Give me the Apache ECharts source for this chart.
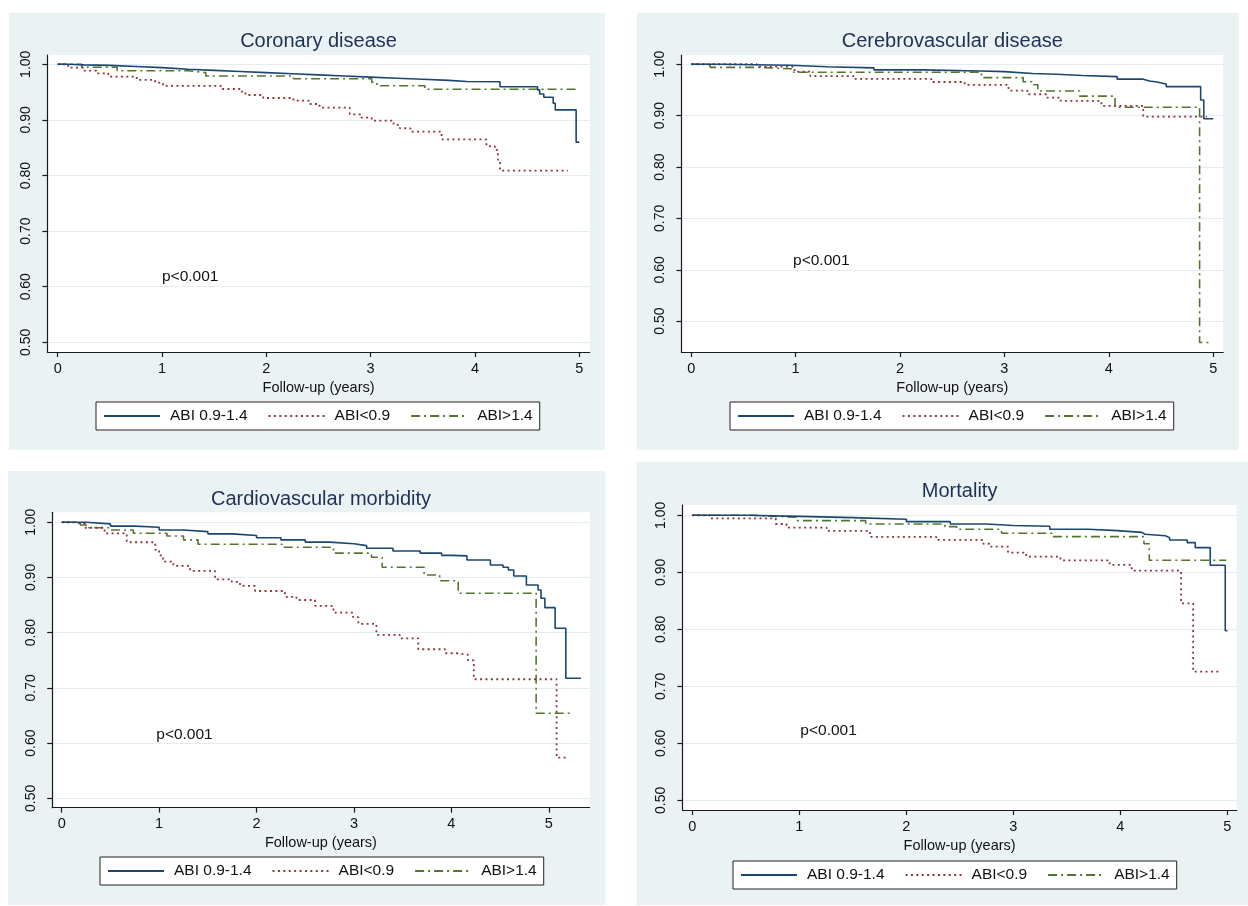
<!DOCTYPE html>
<html><head><meta charset="utf-8">
<script src="https://cdn.jsdelivr.net/npm/echarts@6/dist/echarts.min.js"></script>
<style>html,body{margin:0;padding:0;background:#fff}#c{width:1248px;height:906px}</style>
</head><body><div id="c"></div>
<script>
// ---------- texts ----------
const seriesNames = ['ABI 0.9-1.4', 'ABI<0.9', 'ABI>1.4'];
const panelTitles = ['Coronary disease', 'Cerebrovascular disease', 'Cardiovascular morbidity', 'Mortality'];
const xAxisTitle = 'Follow-up (years)';
const pValueText = 'p<0.001';
const xTickValues = [0, 1, 2, 3, 4, 5];
const yTickValues = [0.5, 0.6, 0.7, 0.8, 0.9, 1.0];

// ---------- Kaplan-Meier estimates [years, survival] ----------
const coronaryNormal = [[0,1.0],[0.1,0.999],[0.25,0.998],[0.5,0.996],[0.75,0.994],[1.0,0.991],[1.25,0.989],[1.5,0.987],[1.75,0.985],[2.0,0.983],[2.25,0.981],[2.5,0.979],[2.75,0.977],[3.0,0.975],[3.25,0.973],[3.5,0.971],[3.75,0.969],[3.92,0.9687],[4.24,0.9597],[4.6,0.954],[4.62,0.9466],[4.66,0.9406],[4.75,0.93],[4.77,0.918],[4.97,0.86],[5.0,0.86]];
const coronaryLow = [[0,1.0],[0.10,0.994],[0.245,0.9885],[0.37,0.9838],[0.485,0.9777],[0.757,0.9718],[0.933,0.967],[1.01,0.961],[1.58,0.9556],[1.75,0.9507],[1.80,0.9448],[1.97,0.9394],[2.26,0.9345],[2.42,0.9286],[2.51,0.922],[2.80,0.910],[2.91,0.904],[3.01,0.8986],[3.22,0.891],[3.28,0.885],[3.38,0.879],[3.68,0.865],[4.11,0.853],[4.19,0.846],[4.22,0.828],[4.24,0.8087],[4.89,0.8087]];
const coronaryHigh = [[0,1.0],[0.23,0.9946],[0.57,0.9885],[1.25,0.985],[1.42,0.979],[2.26,0.974],[3.01,0.9676],[3.06,0.9615],[3.52,0.955],[4.99,0.955]];

const cerebroNormal = [[0,1.0],[0.3,0.999],[0.6,0.998],[0.95,0.995],[1.3,0.993],[1.75,0.989],[2.2,0.987],[2.77,0.9856],[3.0,0.982],[3.27,0.9805],[3.5,0.978],[3.75,0.976],[4.08,0.971],[4.33,0.9675],[4.39,0.9655],[4.46,0.9617],[4.55,0.9565],[4.88,0.9305],[4.91,0.894],[5.0,0.894]];
const cerebroLow = [[0,1.0],[0.63,0.9953],[0.99,0.9856],[1.14,0.977],[1.57,0.9714],[2.30,0.9655],[2.62,0.9597],[3.04,0.9487],[3.22,0.9416],[3.40,0.935],[3.54,0.9286],[3.93,0.919],[4.33,0.898],[4.94,0.898]];
const cerebroHigh = [[0,1.0],[0.18,0.994],[0.63,0.991],[0.98,0.9844],[2.78,0.974],[3.18,0.966],[3.28,0.96],[3.32,0.948],[3.72,0.938],[4.06,0.9163],[4.87,0.4584],[4.99,0.4584]];

const cvNormal = [[0,1.0],[0.25,0.997],[0.5,0.993],[0.75,0.991],[1.0,0.986],[1.25,0.983],[1.5,0.979],[1.75,0.976],[2.0,0.972],[2.25,0.968],[2.5,0.964],[2.75,0.961],[3.0,0.9576],[3.13,0.953],[3.4,0.948],[3.68,0.944],[3.9,0.94],[4.0,0.939],[4.16,0.9317],[4.4,0.9226],[4.53,0.9185],[4.585,0.9136],[4.64,0.9027],[4.77,0.8864],[4.89,0.8774],[4.92,0.8623],[4.96,0.8453],[5.065,0.808],[5.175,0.7174],[5.33,0.7174]];
const cvLow = [[0,1.0],[0.12,0.997],[0.24,0.990],[0.44,0.980],[0.667,0.9638],[0.96,0.95],[1.0,0.94],[1.04,0.9286],[1.146,0.9208],[1.317,0.9118],[1.574,0.8967],[1.745,0.892],[1.83,0.8846],[1.985,0.8755],[2.29,0.865],[2.41,0.8592],[2.60,0.8484],[2.79,0.8362],[2.99,0.828],[3.045,0.8158],[3.23,0.796],[3.47,0.7898],[3.66,0.77],[3.935,0.7627],[4.055,0.76],[4.17,0.75],[4.23,0.7156],[5.08,0.5736],[5.185,0.5736]];
const cvHigh = [[0,1.0],[0.19,0.995],[0.26,0.990],[0.5,0.986],[0.735,0.980],[1.08,0.975],[1.25,0.968],[1.40,0.960],[2.26,0.9547],[2.79,0.944],[3.18,0.9366],[3.29,0.9185],[3.72,0.9045],[3.88,0.894],[4.07,0.8714],[4.87,0.654],[5.25,0.654]];

const mortNormal = [[0,1.0],[0.5,0.998],[1.0,0.9958],[1.5,0.993],[2.0,0.9888],[2.41,0.9847],[2.75,0.982],[3.0,0.9807],[3.34,0.9754],[3.7,0.973],[3.97,0.970],[4.2,0.9667],[4.23,0.964],[4.42,0.9607],[4.46,0.9567],[4.625,0.952],[4.70,0.9432],[4.84,0.9123],[4.98,0.7975],[5.0,0.7975]];
const mortLow = [[0,1.0],[0.17,0.9947],[0.78,0.9847],[0.88,0.9783],[1.255,0.9725],[1.66,0.962],[2.28,0.9567],[2.72,0.95],[2.775,0.945],[2.95,0.9344],[3.12,0.9274],[3.44,0.921],[3.90,0.9128],[4.106,0.9028],[4.567,0.8456],[4.68,0.7256],[4.93,0.7256]];
const mortHigh = [[0,1.0],[0.57,0.9965],[0.968,0.9906],[1.62,0.9847],[2.36,0.98],[2.47,0.9754],[2.89,0.9684],[3.36,0.9625],[4.22,0.95],[4.27,0.921],[4.99,0.921]];

// p-value annotation anchor (data coords, left edge of text)
const pLabelCoords = [[0.99,0.618],[0.966,0.617],[0.96,0.616],[1.0,0.622]];

const curves = [
  [coronaryNormal, coronaryLow, coronaryHigh],
  [cerebroNormal, cerebroLow, cerebroHigh],
  [cvNormal, cvLow, cvHigh],
  [mortNormal, mortLow, mortHigh]
];

// ---------- layout / style (not data) ----------
const FONT = '"Liberation Sans", Arial, Helvetica, sans-serif';
const layout = [
  {grid:[47.4,55,542.3,297],   x:[-0.099,5.10], y:[0.4826,1.0167], bg:[8.7,12.7,596,437.3],   titleAt:[318.5,31],  legendAt:[96,402]},
  {grid:[681.4,55,541.8,297],  x:[-0.094,5.096],y:[0.44,1.018],    bg:[636.7,12.7,602,437.3], titleAt:[952.3,31],  legendAt:[730,402]},
  {grid:[52.2,512.3,537.5,295.4], x:[-0.098,5.42], y:[0.483,1.018], bg:[8,471,597.5,434],      titleAt:[321,489],   legendAt:[100,857]},
  {grid:[682.5,505,554.2,305], x:[-0.092,5.087],y:[0.483,1.018],   bg:[636.7,461.7,611.3,443.3], titleAt:[959.6,481], legendAt:[733,861]}
];
const styles = [
  {color:'#1a476f', width:1.6, type:'solid'},
  {color:'#90353b', width:1.8, type:[2,3.4]},
  {color:'#55752f', width:1.6, type:[9,4,2,4]}
];

const series = [];
curves.forEach((group, p) => {
  group.forEach((data, k) => {
    series.push({
      name: seriesNames[k], type:'line', step:'end', xAxisIndex:p, yAxisIndex:p,
      data: data, showSymbol:false, symbol:'none', silent:true,
      lineStyle:{color:styles[k].color, width:styles[k].width, type:styles[k].type},
      itemStyle:{color:styles[k].color}, z: 3 + (2-k)
    });
  });
  series.push({
    type:'scatter', xAxisIndex:p, yAxisIndex:p, data:[pLabelCoords[p]], symbolSize:2,
    itemStyle:{color:'rgba(0,0,0,0)'}, silent:true, z:10,
    label:{show:true, position:'right', distance:0, formatter:pValueText, fontFamily:FONT, fontSize:15.5, color:'#111', opacity:1}
  });
});

const axisLineStyle = {color:'#1a1a1a', width:1.2};
const option = {
  animation:false,
  backgroundColor:'#ffffff',
  graphic: layout.map(l => ({type:'rect', z:-10, silent:true,
    shape:{x:l.bg[0], y:l.bg[1], width:l.bg[2], height:l.bg[3]}, style:{fill:'#eaf2f3'}})),
  title: layout.map((l,i) => ({text:panelTitles[i], left:l.titleAt[0], top:l.titleAt[1], textAlign:'center', padding:0,
    textStyle:{fontFamily:FONT, fontSize:20, fontWeight:'normal', color:'#1f2f57'}})),
  legend: layout.map(l => ({data:seriesNames, left:l.legendAt[0], top:l.legendAt[1], orient:'horizontal',
    itemWidth:56, itemHeight:16, itemGap:20, padding:[6,7], backgroundColor:'#fff', borderColor:'#222', borderWidth:1,
    borderRadius:0, selectedMode:false, itemStyle:{opacity:0, borderWidth:0},
    textStyle:{fontFamily:FONT, fontSize:15.5, color:'#111', padding:[0,0,0,5]}})),
  grid: layout.map(l => ({left:l.grid[0], top:l.grid[1], width:l.grid[2], height:l.grid[3], show:true,
    backgroundColor:'#ffffff', borderWidth:0})),
  xAxis: layout.map((l,i) => ({gridIndex:i, type:'value', min:l.x[0], max:l.x[1],
    name:xAxisTitle, nameLocation:'middle', nameGap:28,
    nameTextStyle:{fontFamily:FONT, fontSize:14.5, color:'#111'},
    axisLine:{show:true, onZero:false, lineStyle:axisLineStyle},
    axisTick:{show:true, customValues:xTickValues, length:5, lineStyle:axisLineStyle},
    axisLabel:{show:true, customValues:xTickValues, formatter:v => String(v), margin:9, fontFamily:FONT, fontSize:14.5, color:'#111'},
    splitLine:{show:false}})),
  yAxis: layout.map((l,i) => ({gridIndex:i, type:'value', min:l.y[0], max:l.y[1],
    axisLine:{show:true, onZero:false, lineStyle:axisLineStyle},
    axisTick:{show:true, customValues:yTickValues, length:5, lineStyle:axisLineStyle},
    axisLabel:{show:true, customValues:yTickValues, rotate:90, formatter:v => v.toFixed(2), margin:14, fontFamily:FONT, fontSize:14, color:'#111'},
    splitLine:{show:true, lineStyle:{color:'#e3ecef', width:1.2}}})),
  series: series
};
const chart = echarts.init(document.getElementById('c'));
chart.setOption(option);
</script>
</body></html>
